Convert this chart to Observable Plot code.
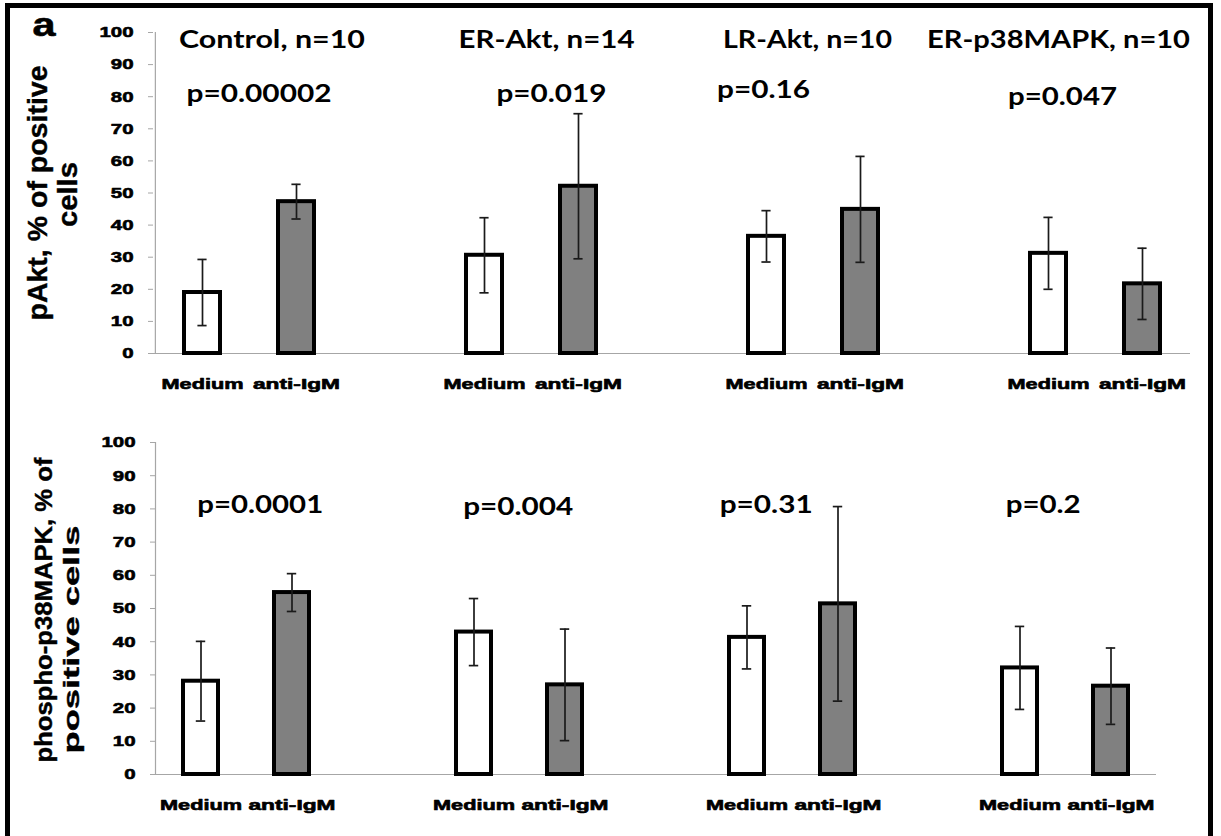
<!DOCTYPE html>
<html>
<head>
<meta charset="utf-8">
<script src="https://cdn.jsdelivr.net/npm/d3@7"></script>
<script src="https://cdn.jsdelivr.net/npm/@observablehq/plot@0.6"></script>
<style>
html, body { margin: 0; padding: 0; background: #fff; }
#wrap { position: relative; width: 1221px; height: 836px; overflow: hidden; background: #fff; }
#border { position: absolute; left: 5px; top: 3px; width: 1198px; height: 840px; border: 5px solid #000; border-bottom: none; z-index: 2; pointer-events: none; }
#top, #bottom { position: absolute; left: 0; }
#top { top: 0; }
#bottom { top: 410px; }
</style>
</head>
<body>
<div id="wrap">
  <div id="top"></div>
  <div id="bottom"></div>
  <div id="border"></div>
</div>
<script>
// ---------- data ----------
const groups = ["Control", "ER-Akt", "LR-Akt", "ER-p38MAPK"];
const nCounts = [10, 14, 10, 10];
const conditions = ["Medium", "anti-IgM"];

const pAktMedium    = [19.0, 30.6, 36.5, 31.2];
const pAktMediumErr = [10.3, 11.7,  8.0, 11.2];
const pAktAnti      = [47.3, 52.1, 44.9, 21.7];
const pAktAntiErr   = [ 5.4, 22.6, 16.5, 11.1];
const pAktP = ["0.00002", "0.019", "0.16", "0.047"];

const p38Medium    = [28.1, 42.9, 41.3, 32.1];
const p38MediumErr = [12.0, 10.1,  9.5, 12.5];
const p38Anti      = [54.8, 27.0, 51.4, 26.6];
const p38AntiErr   = [ 5.7, 16.8, 29.3, 11.5];
const p38P = ["0.0001", "0.004", "0.31", "0.2"];

const yTicks = [0, 10, 20, 30, 40, 50, 60, 70, 80, 90, 100];
const yTitleTop = ["pAkt, % of positive", "cells"];
const yTitleBottom = ["phospho-p38MAPK, % of", "positive cells"];
const panelLetter = "a";

// ---------- structure ----------
const key = (g, c) => g + "|" + c;
const slots = [];
groups.forEach((g, i) => {
  conditions.forEach(c => slots.push(key(g, c)));
  if (i < groups.length - 1) slots.push("gap" + i);
});
function buildRows(med, medErr, anti, antiErr) {
  const vals = [med, anti], errs = [medErr, antiErr];
  return groups.flatMap((g, i) => conditions.map((c, j) => ({
    slot: key(g, c), cond: c, mean: vals[j][i], err: errs[j][i]
  })));
}
const topRows = buildRows(pAktMedium, pAktMediumErr, pAktAnti, pAktAntiErr);
const bottomRows = buildRows(p38Medium, p38MediumErr, p38Anti, p38AntiErr);

const ARIAL = "Liberation Sans, Arial, sans-serif";
const CALIBRI = "Lato, Open Sans, sans-serif";

function panel(cfg) {
  const step = (cfg.width - cfg.marginLeft - cfg.marginRight) / slots.length;
  const pi = 0.62;
  const bw = step * (1 - pi);
  const capInset = (bw - 9) / 2;
  const marks = [
    Plot.ruleY([0], {stroke: "#a6a6a6", strokeWidth: 1.2}),
    Plot.ruleX([slots[0]], {y1: 0, y2: 100, dx: -step / 2, stroke: "#a6a6a6", strokeWidth: 1.2}),
    Plot.axisY(yTicks, {tickSize: 5, tickPadding: 15, stroke: "#a6a6a6", fill: "#000",
      textStroke: "#000", textStrokeWidth: 0.6,
      fontSize: 15, fontWeight: "bold", fontFamily: ARIAL, label: null}),
    Plot.axisX({tickSize: 0, tickPadding: 26, fill: "#000",
      textStroke: "#000", textStrokeWidth: 0.6,
      tickFormat: d => d.startsWith("gap") ? "" : d.split("|")[1],
      fontSize: 14, fontWeight: "bold", fontFamily: ARIAL, label: null}),
    Plot.barY(cfg.rows, {x: "slot", y: "mean", fill: "cond", stroke: "#000", strokeWidth: 4}),
    Plot.ruleX(cfg.rows, {x: "slot", y1: d => d.mean - d.err, y2: d => d.mean + d.err, stroke: "#1a1a1a", strokeWidth: 1.7}),
    Plot.tickY(cfg.rows, {x: "slot", y: d => d.mean + d.err, insetLeft: capInset, insetRight: capInset, stroke: "#1a1a1a", strokeWidth: 1.7}),
    Plot.tickY(cfg.rows, {x: "slot", y: d => d.mean - d.err, insetLeft: capInset, insetRight: capInset, stroke: "#1a1a1a", strokeWidth: 1.7}),
    Plot.text([cfg.yTitle[0]], {frameAnchor: "left", textAnchor: "middle", rotate: -90, dx: cfg.t1dx, dy: cfg.t1dy,
      fontSize: cfg.t1size, fontWeight: "bold", fontFamily: ARIAL, fill: "#000", stroke: "#000", strokeWidth: 0.4}),
    Plot.text([cfg.yTitle[1]], {frameAnchor: "left", textAnchor: "middle", rotate: -90, dx: cfg.t2dx, dy: cfg.t2dy,
      fontSize: cfg.t2size, fontWeight: "bold", fontFamily: ARIAL, fill: "#000", stroke: "#000", strokeWidth: 0.4})
  ];
  groups.forEach((g, i) => {
    marks.push(Plot.text([`p=${cfg.pvals[i]}`], {x: () => key(g, "Medium"), y: () => cfg.pY[i], dx: cfg.pDx[i],
      fontSize: 25, fontWeight: "bold", fontFamily: CALIBRI, fill: "#000"}));
    if (cfg.headings) {
      marks.push(Plot.text([`${g}, n=${nCounts[i]}`], {x: () => key(g, "Medium"), y: () => 97.6, dx: cfg.headDx[i],
        fontSize: 25, fontWeight: "bold", fontFamily: CALIBRI, fill: "#000"}));
    }
  });
  if (cfg.letter) {
    marks.push(Plot.text([panelLetter], {frameAnchor: "top-left", textAnchor: "start", lineAnchor: "bottom",
      dx: -121, dy: 3, fontSize: 34, fontWeight: "bold", fontFamily: ARIAL, fill: "#000", stroke: "#000", strokeWidth: 0.6}));
  }
  return Plot.plot({
    width: cfg.width, height: cfg.height,
    marginLeft: cfg.marginLeft, marginRight: cfg.marginRight,
    marginTop: cfg.marginTop, marginBottom: cfg.marginBottom,
    style: {background: "transparent", overflow: "visible", color: "#000"},
    x: {domain: slots, paddingInner: pi, paddingOuter: pi / 2, axis: null},
    y: {domain: [0, 100], axis: null},
    color: {domain: conditions, range: ["#ffffff", "#808080"]},
    marks
  });
}

const topChart = panel({
  rows: topRows, width: 1221, height: 410,
  marginLeft: 153, marginRight: 31, marginTop: 32, marginBottom: 57,
  yTitle: yTitleTop, t1dx: -115.5, t1dy: 0, t1size: 27, t2dx: -85, t2dy: 1.5, t2size: 27,
  pvals: pAktP, pDx: [56.5, 67, -3, 14], pY: [80.8, 80.8, 82, 79.9],
  headings: true, headDx: [69.5, 62, 41, 10], letter: true
});
const bottomChart = panel({
  rows: bottomRows, width: 1221, height: 426,
  marginLeft: 155, marginRight: 65, marginTop: 32, marginBottom: 62,
  yTitle: yTitleBottom, t1dx: -111.6, t1dy: 1.5, t1size: 24, t2dx: -84, t2dy: 31, t2size: 22,
  pvals: p38P, pDx: [59.2, 44.2, 19.2, 23.2], pY: [81.3, 80.5, 81.3, 81.1],
  headings: false, letter: false
});
document.getElementById("top").appendChild(topChart);
document.getElementById("bottom").appendChild(bottomChart);

// horizontal stretch of text to match the reference proportions
const targets = {
  "Control, n=10": 186, "ER-Akt, n=14": 176, "LR-Akt, n=10": 169, "ER-p38MAPK, n=10": 263,
  "p=0.00002": 145, "p=0.019": 110, "p=0.16": 93, "p=0.047": 109,
  "p=0.0001": 126, "p=0.004": 110, "p=0.31": 93, "p=0.2": 75,
  "Medium": 82, "anti-IgM": 87,
  "pAkt, % of positive": 255, "cells": 65,
  "phospho-p38MAPK, % of": 305, "positive cells": 228,
  "a": 23
};
[topChart, bottomChart].forEach(svg => {
  svg.querySelectorAll("text").forEach(t => {
    const s = t.textContent;
    if (!s) return;
    let w = null;
    if (targets[s] != null) w = targets[s];
    else if (/^\d+$/.test(s)) w = t.getComputedTextLength() * 1.36;
    if (w != null) {
      t.setAttribute("textLength", w);
      t.setAttribute("lengthAdjust", "spacingAndGlyphs");
    }
  });
});
</script>
</body>
</html>
